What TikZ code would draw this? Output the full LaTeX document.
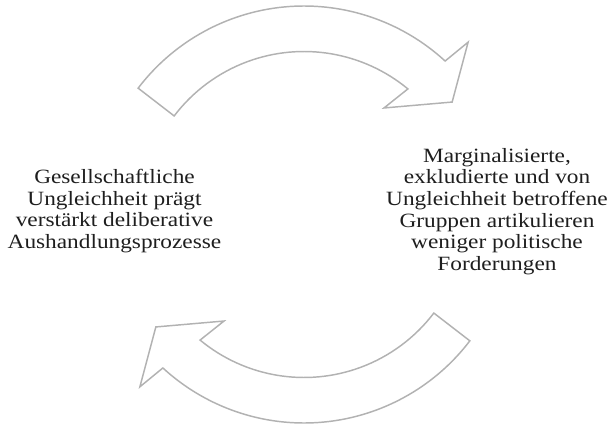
\documentclass[tikz,border=0pt]{standalone}
\usepackage{fontspec}
\setmainfont{Liberation Serif}[FakeStretch=1.15]
\definecolor{pfeilgrau}{RGB}{178,178,178}
\definecolor{textgrau}{RGB}{30,30,30}
\tikzset{
	pfeil/.style={draw=pfeilgrau, line width=1.1pt, line join=miter, fill=white},
	aussage/.style={align=center, text=textgrau, font=\fontsize{15.2}{16.3}\selectfont}
}
\begin{document}
\begin{tikzpicture}[x=0.75pt, y=0.75pt]
	\def\rAussen{208.5}
	\def\rInnen{163}
	
	%Rahmen
	\useasboundingbox (-304, -214.5) rectangle (304, 214.5);
	\coordinate (mitte) at (0, 0);
	
	%Pfeile
	\foreach \drehung in {0, 180}{
		\draw[pfeil, rotate=\drehung]
			(142.7:\rAussen) arc[start angle=142.7, end angle=47.4, radius=\rAussen]
			-- (46.4:238) -- (37.2:186) -- (53.1:133.2) -- (50.4:\rInnen)
			arc[start angle=50.4, end angle=142.8, radius=\rInnen] -- cycle;
	};
	
	%Texte
	\node[aussage] (ungleichheit) at (-189.5, 3.5) {Gesellschaftliche\\Ungleichheit prägt\\verstärkt deliberative\\Aushandlungsprozesse};
	\node[aussage] (forderungen) at (193, 3) {Marginalisierte,\\exkludierte und von\\Ungleichheit betroffene\\Gruppen artikulieren\\weniger politische\\Forderungen};
	
\end{tikzpicture}
\end{document}
